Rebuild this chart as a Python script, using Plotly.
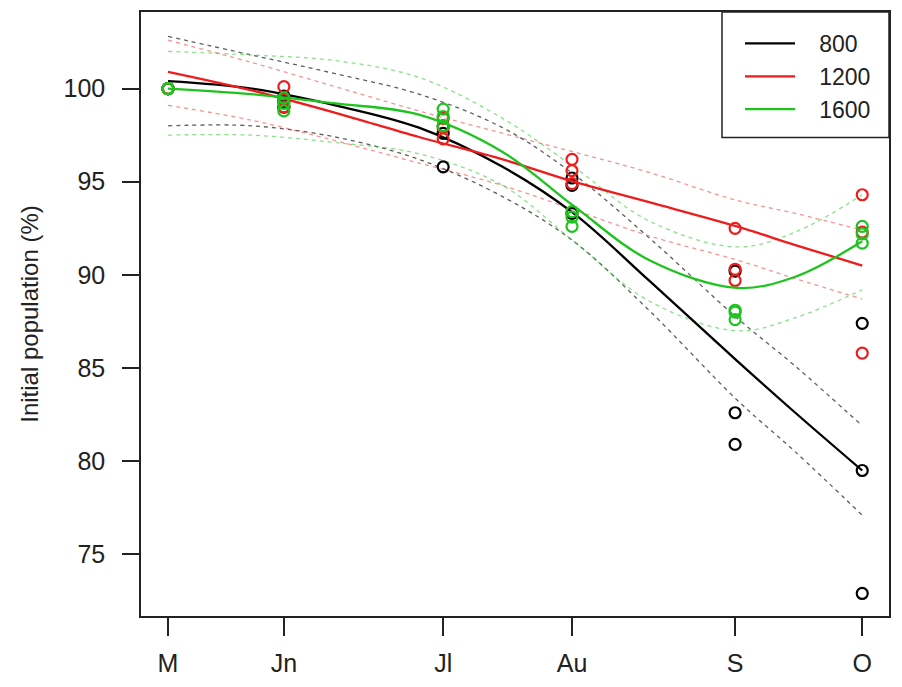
import plotly.graph_objects as go

# ---- data ----
months = ["M", "Jn", "Jl", "Au", "S", "O"]
month_x = [0, 27.7, 65.8, 96.6, 135.6, 166]

# observed points (3 replicates per month)
obs_800 = [[100, 100, 100], [99.6, 99.3, 99.0], [95.8, 97.6, 98.0],
           [93.3, 95.2, 94.8], [82.6, 80.9, 90.2], [87.4, 79.5, 72.9]]
obs_1200 = [[100, 100, 100], [100.1, 99.4, 99.0], [97.3, 97.9, 98.4],
            [96.2, 95.6, 94.9], [92.5, 90.3, 89.7], [94.3, 85.8, 92.3]]
obs_1600 = [[100, 100, 100], [99.5, 99.2, 98.8], [98.9, 98.5, 98.0],
            [93.4, 93.1, 92.6], [88.1, 87.6, 88.0], [92.6, 92.2, 91.7]]

# fitted curves, read at these positions
fit_x = [0, 20, 40, 60, 80, 97, 115, 136, 150, 166]
fit_800 = [100.4, 100.0, 99.1, 97.9, 95.8, 93.3, 89.7, 85.4, 82.6, 79.5]
up_800 = [102.8, 101.8, 100.8, 99.7, 97.9, 95.4, 92.0, 87.7, 85.1, 81.9]
lo_800 = [98.0, 98.0, 97.4, 96.2, 94.2, 91.8, 88.1, 83.3, 80.5, 77.1]

fit_1200 = [100.9, 99.9, 98.7, 97.4, 96.2, 95.0, 93.9, 92.6, 91.6, 90.5]
up_1200 = [102.6, 101.4, 100.1, 98.8, 97.6, 96.6, 95.5, 94.0, 93.3, 92.4]
lo_1200 = [99.1, 98.3, 97.2, 96.0, 94.8, 93.5, 92.1, 90.8, 89.8, 88.7]

fit_1600 = [100.0, 99.7, 99.2, 98.6, 96.6, 93.7, 90.8, 89.3, 89.9, 91.8]
up_1600 = [102.0, 101.8, 101.5, 100.6, 98.4, 95.8, 92.9, 91.5, 92.3, 94.3]
lo_1600 = [97.5, 97.5, 97.1, 96.5, 94.8, 91.8, 88.6, 87.0, 87.7, 89.2]

series = [
    ("800", "#000000", "rgba(40,40,40,0.75)", obs_800, fit_800, up_800, lo_800),
    ("1200", "#EE1C1C", "rgba(235,60,60,0.55)", obs_1200, fit_1200, up_1200, lo_1200),
    ("1600", "#1EC41E", "rgba(40,200,40,0.55)", obs_1600, fit_1600, up_1600, lo_1600),
]

fig = go.Figure()

for name, col, dcol, obs, fit, up, lo in series:
    for band in (up, lo):
        fig.add_trace(go.Scatter(x=fit_x, y=band, mode="lines", showlegend=False,
                                 line=dict(color=dcol, width=1.3, dash="4px,4px",
                                           shape="spline", smoothing=1.0),
                                 hoverinfo="skip"))

for name, col, dcol, obs, fit, up, lo in series:
    xs, ys = [], []
    for mx, vals in zip(month_x, obs):
        for v in vals:
            xs.append(mx)
            ys.append(v)
    fig.add_trace(go.Scatter(x=xs, y=ys, mode="markers", showlegend=False,
                             marker=dict(symbol="circle-open", size=11, color=col,
                                         line=dict(width=2.2, color=col))))
    fig.add_trace(go.Scatter(x=fit_x, y=fit, mode="lines",
                             name="&nbsp;&nbsp;&nbsp;" + name,
                             line=dict(color=col, width=2.3, shape="spline", smoothing=1.0)))

PL, PR, PT, PB = 141, 889, 10, 617
PW, PH = PR - PL, PB - PT

fig.add_shape(type="rect", xref="paper", yref="paper",
              x0=(722 - PL) / PW, x1=1.0, y0=(PB - 136) / PH, y1=1.0,
              line=dict(color="#222", width=1.5), fillcolor="rgba(0,0,0,0)")

fig.update_layout(
    width=902, height=687,
    margin=dict(l=PL, r=902 - PR, t=PT, b=687 - PB),
    plot_bgcolor="white", paper_bgcolor="white",
    font=dict(family="Liberation Sans, Arial, sans-serif", size=25, color="#222"),
    legend=dict(x=(740 - PL) / PW, y=1 - (20 - PT) / PH, xanchor="left", yanchor="top",
                bgcolor="rgba(0,0,0,0)", borderwidth=0, itemwidth=50,
                font=dict(size=23, color="#222")),
    xaxis=dict(range=[-6.46, 172.4], tickvals=month_x, ticktext=months,
               showgrid=False, zeroline=False, showline=True, mirror=True,
               linecolor="#222", linewidth=1.5, ticks="outside", ticklen=18,
               tickwidth=1.5, tickcolor="#222", tickfont=dict(size=25),
               ticklabelstandoff=6),
    yaxis=dict(range=[71.69, 104.11], tickvals=[75, 80, 85, 90, 95, 100],
               showgrid=False, zeroline=False, showline=True, mirror=True,
               linecolor="#222", linewidth=1.5, ticks="outside", ticklen=17,
               tickwidth=1.5, tickcolor="#222", tickfont=dict(size=25),
               ticklabelstandoff=12,
               title=dict(text="Initial population (%)", font=dict(size=24), standoff=18)),
)

fig.write_html("out.html")
